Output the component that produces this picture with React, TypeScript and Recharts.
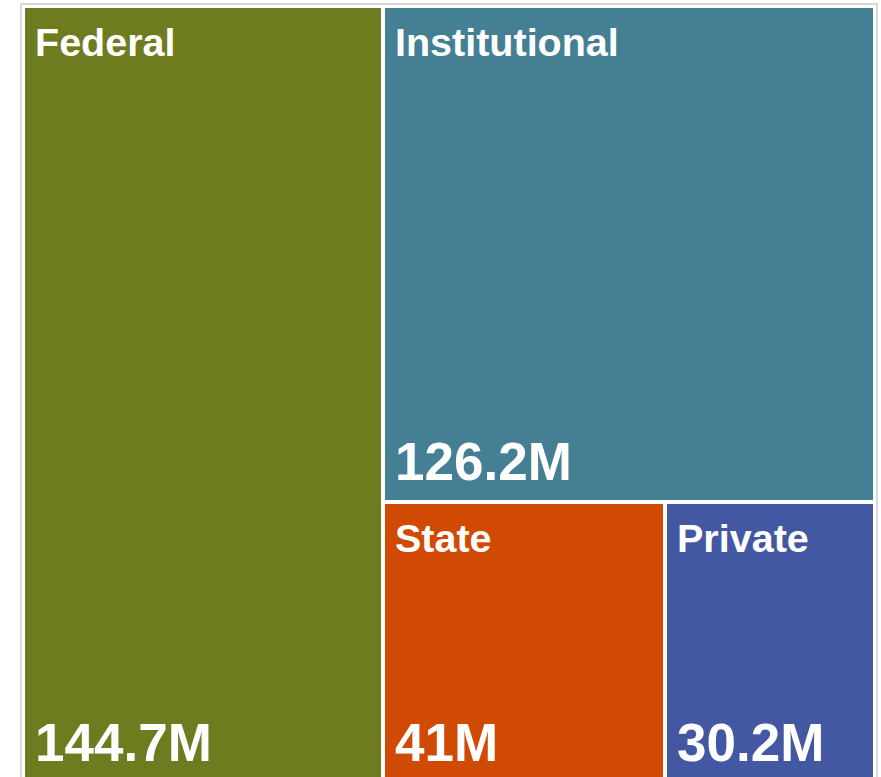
import React from 'react';
import { Treemap } from 'recharts';

const categories = ['Federal', 'Institutional', 'State', 'Private'];
const amounts = [144.7, 126.2, 41, 30.2];
const colors = ['#6E7B1E', '#447F94', '#D14A04', '#4357A3'];

const data = categories.map((name, i) => ({ name, size: amounts[i] }));

const CustomContent = (props: any) => {
  const { x, y, width, height, depth, index, name, value } = props;
  if (depth !== 1) return null;
  return (
    <g>
      <rect
        x={x}
        y={y}
        width={width}
        height={height}
        fill={colors[index % colors.length]}
        stroke="#ffffff"
        strokeWidth={4}
      />
      <text
        x={x + 12}
        y={y + 50}
        fill="#ffffff"
        stroke="none"
        fontFamily="'Liberation Sans', Arial, sans-serif"
        fontWeight="bold"
        fontSize={39.5}
      >
        {name}
      </text>
      <text
        x={x + 12}
        y={y + height - 22}
        fill="#ffffff"
        stroke="none"
        fontFamily="'Liberation Sans', Arial, sans-serif"
        fontWeight="bold"
        fontSize={53}
      >
        {`${value}M`}
      </text>
    </g>
  );
};

export default function App() {
  return (
    <div
      style={{
        position: 'fixed',
        left: 0,
        top: 0,
        width: 881,
        height: 777,
        overflow: 'hidden',
        background: '#ffffff',
      }}
    >
      <div
        style={{
          position: 'absolute',
          left: 20,
          top: 3,
          width: 854,
          height: 800,
          border: '2px solid #d9d9d9',
        }}
      />
      <div style={{ position: 'absolute', left: 23, top: 6 }}>
        <Treemap
          width={852}
          height={777}
          data={data}
          dataKey="size"
          nameKey="name"
          aspectRatio={0.5}
          isAnimationActive={false}
          content={<CustomContent />}
        />
      </div>
    </div>
  );
}
